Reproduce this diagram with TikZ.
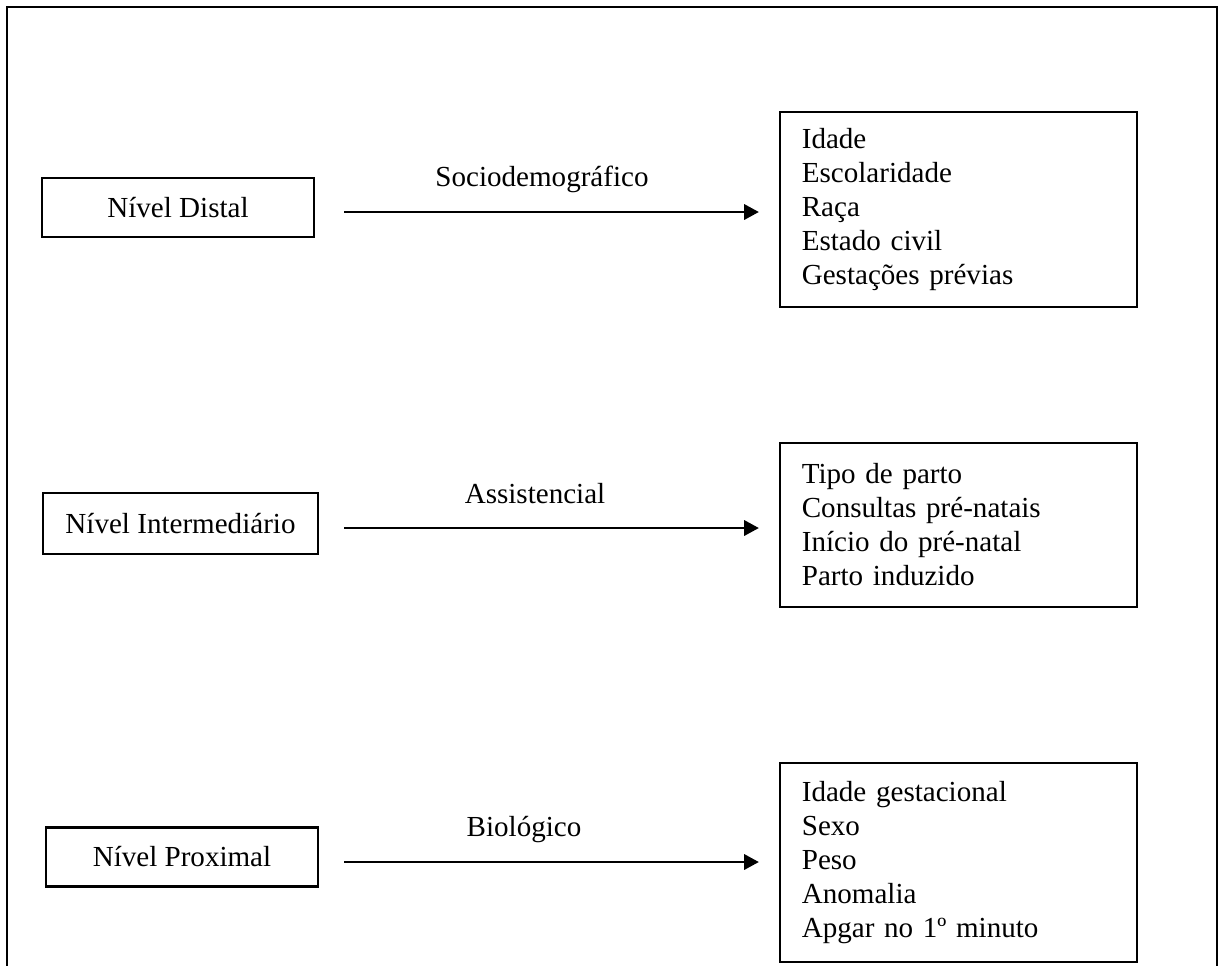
\documentclass[tikz,border=0pt]{standalone}
\usepackage{fontspec}
\setmainfont{Liberation Serif}
\usetikzlibrary{arrows.meta,calc}

\tikzset{every picture/.style={line width=1.7pt}}
\tikzset{
	txt/.style={font=\fontsize{21.8}{25.5}\selectfont},
	level box/.style={txt, draw, inner sep=0pt, minimum width=204pt, minimum height=44.25pt},
	var box/.style={txt, draw, align=left, text width=235pt, inner xsep=16.4pt, inner ysep=0pt, minimum width=267.75pt},
	flow/.style={-{Triangle[length=11pt,width=11.5pt]}}}

\begin{document}
\begin{tikzpicture}[x=0.75pt,y=0.75pt,yscale=-1,xscale=1]
	\useasboundingbox (0,0) rectangle (1219,965);

	%Frame (open at the bottom)
	\draw (7,975) -- (7,7) -- (1217,7) -- (1217,975);

	%Level boxes
	\node[level box] (dist) at (178,207.5) {Nível Distal};
	\node[level box, minimum width=206.25pt, minimum height=45.75pt] (inter) at (180.5,523.5) {Nível Intermediário};
	\node[level box] (prox) at (182,857) {Nível Proximal};

	%Variable boxes
	\node[var box, minimum height=146.25pt] (socio) at (958.5,209.5) {Idade\\Escolaridade\\Raça\\Estado civil\\Gestações prévias};
	\node[var box, minimum height=123pt] (assist) at (958.5,525) {Tipo de parto\\Consultas pré-natais\\Início do pré-natal\\Parto induzido};
	\node[var box, minimum height=149.25pt] (bio) at (958.5,862.5) {Idade gestacional\\Sexo\\Peso\\Anomalia\\Apgar no 1º minuto};

	%Arrows
	\draw[flow] ($(dist.east)+(29,4.5)$) -- ($(socio.west |- dist.east)+(-20,4.5)$);
	\draw[flow] ($(inter.east)+(25,4.5)$) -- ($(assist.west |- inter.east)+(-20,4.5)$);
	\draw[flow] ($(prox.east)+(25,5)$) -- ($(bio.west |- prox.east)+(-20,5)$);

	% Text Node
	\node[txt, anchor=base] (lsocio) at (542,186) {Sociodemográfico};
	% Text Node
	\node[txt, anchor=base] (lassist) at (535,503) {Assistencial};
	% Text Node
	\node[txt, anchor=base] (lbio) at (524,836) {Biológico};

\end{tikzpicture}
\end{document}
